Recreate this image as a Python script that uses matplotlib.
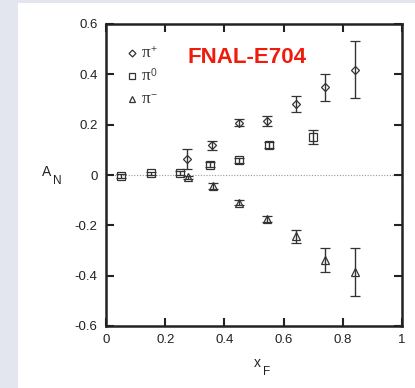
import matplotlib
matplotlib.use("Agg")
import matplotlib.pyplot as plt
from matplotlib.patches import Rectangle

plt.rcParams["font.family"] = ["Liberation Sans", "DejaVu Sans"]

# pi+ asymmetry
xf_pip = [0.275, 0.357, 0.449, 0.543, 0.643, 0.740, 0.840]
an_pip = [0.062, 0.118, 0.208, 0.216, 0.281, 0.348, 0.419]
err_pip = [0.040, 0.017, 0.015, 0.020, 0.031, 0.055, 0.114]

# pi0 asymmetry
xf_pi0 = [0.052, 0.152, 0.251, 0.353, 0.451, 0.550, 0.700]
an_pi0 = [-0.004, 0.007, 0.007, 0.040, 0.058, 0.120, 0.151]
err_pi0 = [0.006, 0.006, 0.008, 0.010, 0.010, 0.012, 0.026]

# pi- asymmetry
xf_pim = [0.278, 0.361, 0.449, 0.543, 0.643, 0.740, 0.840]
an_pim = [-0.008, -0.045, -0.110, -0.175, -0.244, -0.339, -0.385]
err_pim = [0.006, 0.012, 0.010, 0.012, 0.025, 0.047, 0.095]

xticks = [0, 0.2, 0.4, 0.6, 0.8, 1]
yticks = [-0.6, -0.4, -0.2, 0, 0.2, 0.4, 0.6]


def fmt(v):
    return "0" if v == 0 else ("1" if v == 1 else f"{v:g}")


fig = plt.figure(figsize=(4.15, 3.88), dpi=100)
fig.patch.set_facecolor("#e3e6ee")
fig.add_artist(Rectangle((18 / 415, 0), 1, 1 - 3 / 388, transform=fig.transFigure,
                         facecolor="white", edgecolor="none", zorder=0))

ax = fig.add_axes([106 / 415, 1 - 326 / 388, 296 / 415, 302 / 388])
ax.set_xlim(0, 1)
ax.set_ylim(-0.6, 0.6)
ax.axhline(0, color="#999999", lw=0.8, ls=(0, (1, 1.5)), zorder=1)

common = dict(color="#333333", ecolor="#333333", elinewidth=1.0, capsize=3.5,
              capthick=1.0, ls="none", mfc="none", mew=0.9, zorder=3)
ax.errorbar(xf_pip, an_pip, yerr=err_pip, marker="D", ms=4.5, **common)
ax.errorbar(xf_pi0, an_pi0, yerr=err_pi0, marker="s", ms=5.5, **common)
ax.errorbar(xf_pim, an_pim, yerr=err_pim, marker="^", ms=5.5, **common)

# legend
legend_rows = [("D", 3.5, "+", 0.485), ("s", 4.5, "0", 0.393), ("^", 4.0, "\u2212", 0.302)]
for m, s, sup, y in legend_rows:
    ax.plot([0.088], [y], marker=m, ms=s, mfc="none", mec="#333333", mew=0.9, ls="none")
    ax.text(0.12, y, "\u03c0", fontsize=12.5, va="center", ha="left", color="#333333",
            family=["Liberation Serif", "DejaVu Serif"])
    ax.text(0.152, y + 0.014, sup, fontsize=7.5, va="center", ha="left", color="#444444")

ax.text(0.476, 0.466, "FNAL-E704", color="#ee1c0c", fontsize=16, weight="bold",
        ha="center", va="center")

ax.set_xticks(xticks)
ax.set_xticklabels([fmt(v) for v in xticks])
ax.set_yticks(yticks)
ax.set_yticklabels([fmt(v) for v in yticks])
ax.tick_params(direction="in", length=6, width=1.5, top=True, right=True,
               labelsize=9.5, colors="#222222", pad=6)
for sp in ax.spines.values():
    sp.set_linewidth(1.8)
    sp.set_color("#222222")

fig.text(47 / 415, 1 - 172 / 388, "A", fontsize=10, ha="center", va="center", color="#222222")
fig.text(57 / 415, 1 - 181 / 388, "N", fontsize=8.5, ha="center", va="center", color="#222222")
fig.text(257 / 415, 1 - 363 / 388, "x", fontsize=10, ha="center", va="center", color="#222222")
fig.text(267 / 415, 1 - 372 / 388, "F", fontsize=8.5, ha="center", va="center", color="#222222")

fig.savefig("out.png", dpi=100)
